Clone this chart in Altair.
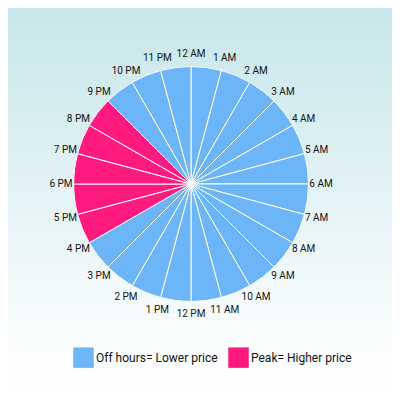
import math
import altair as alt
import pandas as pd

hours = ["12 AM", "1 AM", "2 AM", "3 AM", "4 AM", "5 AM", "6 AM", "7 AM", "8 AM",
         "9 AM", "10 AM", "11 AM", "12 PM", "1 PM", "2 PM", "3 PM", "4 PM", "5 PM",
         "6 PM", "7 PM", "8 PM", "9 PM", "10 PM", "11 PM"]
OFF = "Off hours= Lower price"
PEAK = "Peak= Higher price"
tariff = [OFF] * 16 + [PEAK] * 5 + [OFF] * 3
share = [1] * 24

df = pd.DataFrame({"idx": list(range(24)), "hour": hours, "tariff": tariff, "share": share})

FONT = "Roboto, Liberation Sans, sans-serif"
CX, CY = 183, 176

bg = alt.Chart(alt.Data(values=[{}])).mark_rect(
    fill=alt.LinearGradient(
        gradient="linear",
        stops=[alt.GradientStop(offset=0, color="#c6e6ea"),
               alt.GradientStop(offset=0.88, color="#fcfefe"),
               alt.GradientStop(offset=1, color="#ffffff")],
        x1=0, x2=0, y1=0, y2=1),
).encode(x=alt.value(-8), x2=alt.value(392), y=alt.value(-8), y2=alt.value(392))

pie = alt.Chart(df).mark_arc(outerRadius=117.5, stroke="white", strokeWidth=1).encode(
    theta=alt.Theta("share:Q", stack=True),
    order=alt.Order("idx:Q"),
    color=alt.Color("tariff:N",
                    scale=alt.Scale(domain=[OFF, PEAK], range=["#6cb6f8", "#ff1a80"]),
                    legend=alt.Legend(orient="none", legendX=65, legendY=339,
                                      direction="horizontal", title=None,
                                      symbolType="square", symbolSize=420,
                                      symbolStrokeWidth=0, symbolOpacity=1,
                                      labelFont=FONT, labelFontSize=12,
                                      labelColor="#111", labelOffset=2,
                                      columnPadding=10, labelLimit=300)),
    x=alt.value(CX), y=alt.value(CY),
)

labels = alt.Chart(df).mark_text(radius=130, font=FONT, fontSize=10, color="#111",
                                 align="center", baseline="middle").encode(
    theta=alt.Theta("idx:Q", stack=False,
                    scale=alt.Scale(domain=[0, 24], range=[0, 2 * math.pi])),
    text="hour:N",
    x=alt.value(CX), y=alt.value(CY),
)

chart = alt.layer(bg, pie, labels).resolve_scale(theta="independent").properties(
    width=384, height=384, padding=0, autosize=alt.AutoSizeParams(type="none"),
    background="white",
).configure_view(stroke=None)

chart.save("out.html", embed_options={"renderer": "svg", "actions": False})
